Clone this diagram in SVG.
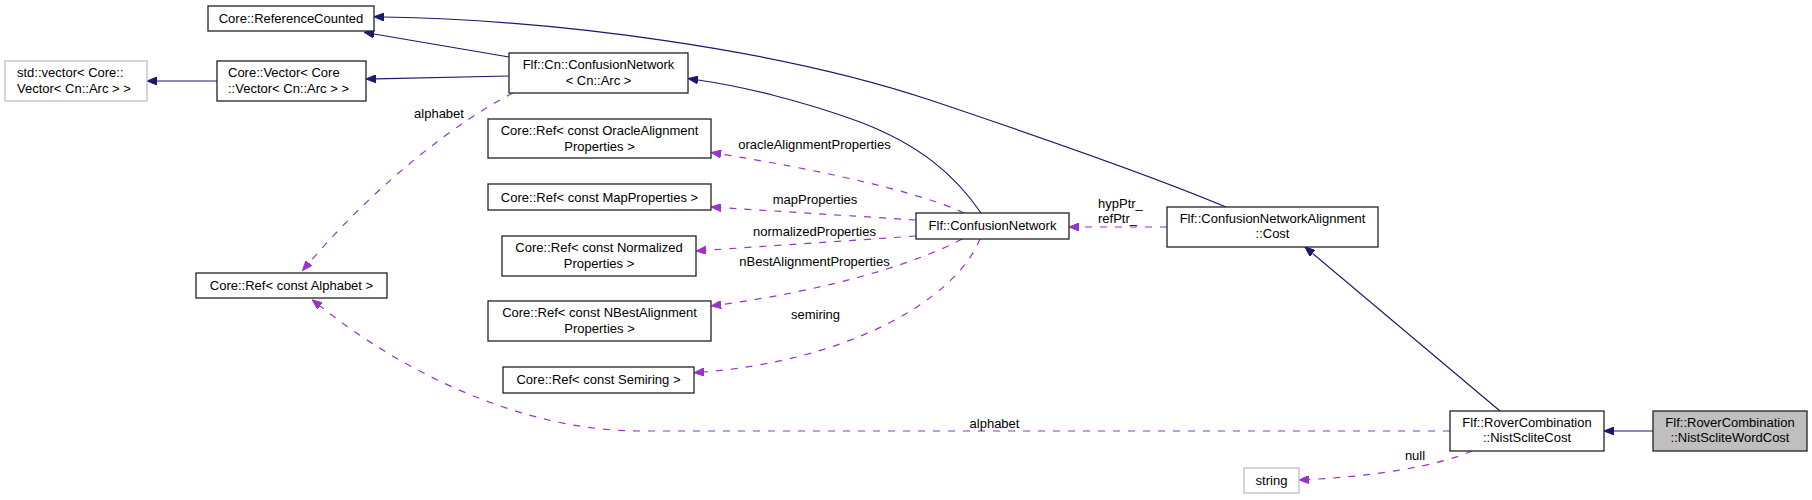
<svg xmlns="http://www.w3.org/2000/svg" width="1812" height="500" viewBox="0 0 1812 500">
<defs>
<style>
text{font-family:"Liberation Sans",Arial,Helvetica,sans-serif;font-size:13px;fill:#000}
.c{text-anchor:middle}
.box{fill:#fff;stroke:#222;stroke-width:1.3}
.gb{fill:#fff;stroke:#bfbfbf;stroke-width:1.3}
.cur{fill:#bfbfbf;stroke:#222;stroke-width:1.3}
.inh{fill:none;stroke:#191970;stroke-width:1.2;marker-end:url(#an)}
.use{fill:none;stroke:#9a32cd;stroke-width:1.2;stroke-dasharray:7,8;marker-end:url(#ap)}
</style>
<marker id="an" viewBox="0 0 10 8" refX="0" refY="4" markerWidth="10" markerHeight="8" markerUnits="userSpaceOnUse" orient="auto">
<path d="M0,0 L10,4 L0,8 z" fill="#191970" stroke="#191970" stroke-width="1" stroke-dasharray="none"/>
</marker>
<marker id="ap" viewBox="0 0 10 8" refX="0" refY="4" markerWidth="10" markerHeight="8" markerUnits="userSpaceOnUse" orient="auto">
<path d="M0,0 L10,4 L0,8 z" fill="#9a32cd" stroke="#9a32cd" stroke-width="1" stroke-dasharray="none"/>
</marker>
</defs>
<rect width="1812" height="500" fill="#fff"/>
<g id="edges">
<path class="inh" d="M217,81 L157,81"/>
<path class="inh" d="M509,76 L376,78.8"/>
<path class="inh" d="M509,57 L374,34"/>
<path class="inh" d="M1226,207 C1150,175 1040,137 930,100 C780,50 560,20 384,17"/>
<path class="inh" d="M981,213 C955,175 920,145 860,122 C800,100 740,86 698,80"/>
<path class="inh" d="M1500,411 L1312.6,253.4"/>
<path class="inh" d="M1653,431 L1614,431"/>
<path class="use" d="M513,93 C460,120 380,180 309,263"/>
<path class="use" d="M1450,431 L640,431 C520,431 400,370 320,306"/>
<path class="use" d="M964,213 C920,192 820,170 721,154"/>
<path class="use" d="M916,220 L721,207.6"/>
<path class="use" d="M916,236 L706,250.3"/>
<path class="use" d="M962,239 C920,262 830,290 721,304.6"/>
<path class="use" d="M980,239 C955,300 850,360 704,372"/>
<path class="use" d="M1167,227 L1079,227"/>
<path class="use" d="M1472,451 C1440,465 1380,476 1309,479.5"/>
<text x="439" y="117.5" class="c">alphabet</text>
<text x="994.5" y="427.5" class="c">alphabet</text>
<text x="814.5" y="148.5" class="c">oracleAlignmentProperties</text>
<text x="815" y="203.5" class="c">mapProperties</text>
<text x="814.5" y="235.5" class="c">normalizedProperties</text>
<text x="814.5" y="265.5" class="c">nBestAlignmentProperties</text>
<text x="815.5" y="318.5" class="c">semiring</text>
<text x="1098" y="208">hypPtr_</text>
<text x="1098" y="223">refPtr_</text>
<text x="1415" y="459.5" class="c">null</text>
</g>
<g id="node_ReferenceCounted">
<rect class="box" x="208" y="6" width="166" height="25"/>
<text x="291" y="22.5" class="c">Core::ReferenceCounted</text>
</g>
<g id="node_stdvector">
<rect class="gb" x="5" y="61" width="142" height="40"/>
<text x="17" y="76.5">std::vector&lt; Core::</text>
<text x="17" y="93">Vector&lt; Cn::Arc &gt; &gt;</text>
</g>
<g id="node_CoreVector">
<rect class="box" x="217" y="61" width="149" height="40"/>
<text x="228" y="76.5">Core::Vector&lt; Core</text>
<text x="228" y="93">::Vector&lt; Cn::Arc &gt; &gt;</text>
</g>
<g id="node_CnConfusionNetwork">
<rect class="box" x="509" y="53" width="179" height="40"/>
<text x="598.5" y="69" class="c">Flf::Cn::ConfusionNetwork</text>
<text x="598.5" y="84.5" class="c">&lt; Cn::Arc &gt;</text>
</g>
<g id="node_RefOracle">
<rect class="box" x="488" y="119" width="223" height="39"/>
<text x="599.5" y="135" class="c">Core::Ref&lt; const OracleAlignment</text>
<text x="599.5" y="150.5" class="c">Properties &gt;</text>
</g>
<g id="node_RefMap">
<rect class="box" x="488" y="184" width="223" height="26"/>
<text x="599.5" y="201.5" class="c">Core::Ref&lt; const MapProperties &gt;</text>
</g>
<g id="node_RefNormalized">
<rect class="box" x="502" y="236" width="194" height="40"/>
<text x="599" y="252" class="c">Core::Ref&lt; const Normalized</text>
<text x="599" y="267.5" class="c">Properties &gt;</text>
</g>
<g id="node_RefNBest">
<rect class="box" x="488" y="301" width="223" height="40"/>
<text x="599.5" y="317" class="c">Core::Ref&lt; const NBestAlignment</text>
<text x="599.5" y="332.5" class="c">Properties &gt;</text>
</g>
<g id="node_RefSemiring">
<rect class="box" x="503" y="367" width="191" height="26"/>
<text x="598.5" y="384" class="c">Core::Ref&lt; const Semiring &gt;</text>
</g>
<g id="node_RefAlphabet">
<rect class="box" x="196" y="273" width="191" height="25"/>
<text x="291.5" y="289.5" class="c">Core::Ref&lt; const Alphabet &gt;</text>
</g>
<g id="node_FlfConfusionNetwork">
<rect class="box" x="916" y="213" width="153" height="26"/>
<text x="992.5" y="230" class="c">Flf::ConfusionNetwork</text>
</g>
<g id="node_Cost">
<rect class="box" x="1167" y="207" width="211" height="40"/>
<text x="1272.5" y="223" class="c">Flf::ConfusionNetworkAlignment</text>
<text x="1272.5" y="238" class="c">::Cost</text>
</g>
<g id="node_NistScliteCost">
<rect class="box" x="1450" y="411" width="154" height="40"/>
<text x="1527" y="427" class="c">Flf::RoverCombination</text>
<text x="1527" y="442" class="c">::NistScliteCost</text>
</g>
<g id="node_NistScliteWordCost">
<rect class="cur" x="1653" y="411" width="154" height="40"/>
<text x="1730" y="427" class="c">Flf::RoverCombination</text>
<text x="1730" y="442" class="c">::NistScliteWordCost</text>
</g>
<g id="node_string">
<rect class="gb" x="1244" y="468" width="55" height="25"/>
<text x="1271.5" y="485" class="c">string</text>
</g>
</svg>
